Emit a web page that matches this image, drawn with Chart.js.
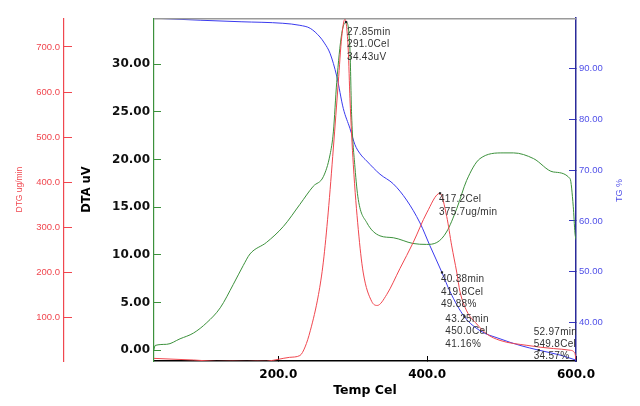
<!DOCTYPE html>
<html>
<head>
<meta charset="utf-8">
<script src="https://cdn.jsdelivr.net/npm/chart.js@4.4.1/dist/chart.umd.min.js"></script>
<style>
  html, body { margin: 0; padding: 0; background: #fff; }
  #c { display: block; }
</style>
</head>
<body>
<canvas id="c" width="640" height="406"></canvas>
<script>
// ---- data ----
const dtgTemp = [32, 54.5, 86, 117, 158, 184, 200, 215, 229, 236, 243, 254, 260.5, 267, 274, 280.6, 285.2, 289.6, 294, 296.3, 300.8, 307.5, 314, 325.5, 333, 345.6, 363.5, 381.4, 399.4, 417.2, 426.3, 433, 439.7, 444.1, 453.1, 466.6, 480, 498, 534, 569.5, 592, 598.6, 600];
const dtgValues = [9.8, 8.2, 6.1, 3, 3, 3.3, 7.6, 12, 16, 35, 71, 151, 223, 332, 476, 621, 722, 762, 693, 585, 439, 295, 201, 136, 127, 151, 209, 267, 332, 375.7, 324, 259, 201, 158, 115, 86, 64, 49.5, 38.6, 31.5, 27.8, 20.6, 6];

const dtaTemp = [33, 34.5, 50, 68, 86, 104, 122, 139.5, 153, 162, 184, 207, 229, 247, 260.5, 269.5, 274, 278.5, 285.2, 291, 296.3, 298.5, 303, 307.5, 318.8, 336.6, 354.5, 381, 399, 413, 426, 440, 453, 471, 502, 516, 543, 569.5, 592, 596.3, 598.6, 600];
const dtaValues = [0.05, 0.5, 0.62, 1.2, 1.8, 2.9, 4.45, 6.9, 8.9, 10.1, 11.3, 13.0, 15.3, 17.2, 18.2, 20.5, 22.9, 28.1, 33.2, 34.43, 31.5, 24.7, 19.2, 15.8, 13.4, 12.0, 11.8, 11.2, 11.1, 11.3, 12.4, 14.9, 17.8, 20.1, 20.7, 20.7, 20.1, 18.7, 18.0, 15.1, 12.3, 11.6];

const tgTemp = [33, 95, 150, 206, 229, 243, 256, 262, 269.5, 278.5, 287.4, 296.3, 303, 310, 318.8, 336.6, 354.5, 372.4, 390.4, 403.8, 419.8, 430.7, 450, 471, 497.9, 524.7, 549.8, 578.5, 600];
const tgValues = [99.9, 99.5, 99.2, 98.9, 98.5, 97.9, 96.2, 95.0, 93.0, 88.5, 82.1, 78.2, 75.0, 73.2, 71.8, 69.2, 67.3, 64.1, 59.6, 55.1, 49.88, 46.1, 41.16, 38.4, 36.8, 35.5, 34.57, 33.6, 32.6];

const xTicks = [200, 400, 600];
const dtaTicks = [0, 5, 10, 15, 20, 25, 30];
const dtgTicks = [100, 200, 300, 400, 500, 600, 700];
const tgTicks = [40, 50, 60, 70, 80, 90];

// annotations: [axis, temp, value, text lines]
const annotations = [
  ['yDTA', 291.0, 34.43, ['27.85min', '291.0Cel', '34.43uV']],
  ['yDTG', 417.2, 375.7, ['417.2Cel', '375.7ug/min']],
  ['yTG', 419.8, 49.88, ['40.38min', '419.8Cel', '49.88%']],
  ['yTG', 450.0, 41.16, ['43.25min', '450.0Cel', '41.16%']],
  ['yTG', 549.8, 34.57, ['52.97min', '549.8Cel', '34.57%']]
];
// text offsets relative to marker (dx, first line dy, line step)
const annotOffsets = [[1, 10, 12.5], [-1, 6, 13], [-1, 7, 12.7], [-19, 2.5, 12.5], [-5, -18, 12.2]];

const RED = '#f0474f', GREEN = '#3c913c', BLUE = '#3a3aee';

const pts = (xs, ys) => xs.map((t, i) => ({ x: t, y: ys[i] }));

const annotPlugin = {
  id: 'annot',
  afterDraw(chart) {
    const { ctx, chartArea } = chart;
    const x = chart.scales.x;
    // top border
    ctx.save();
    ctx.strokeStyle = '#9a9a9a';
    ctx.lineWidth = 1.5;
    ctx.beginPath();
    ctx.moveTo(chartArea.left, chartArea.top + 0.5);
    ctx.lineTo(chartArea.right, chartArea.top + 0.5);
    ctx.stroke();
    ctx.restore();

    // annotations clipped to plot area
    ctx.save();
    ctx.beginPath();
    ctx.rect(chartArea.left, chartArea.top, chartArea.right - chartArea.left, chartArea.bottom - chartArea.top);
    ctx.clip();
    ctx.font = '10px "Liberation Sans", Arial, sans-serif';
    ctx.textBaseline = 'middle';
    ctx.textAlign = 'left';
    try { ctx.letterSpacing = '0.3px'; } catch (e) {}
    annotations.forEach((a, i) => {
      const px = x.getPixelForValue(a[1]);
      const py = chart.scales[a[0]].getPixelForValue(a[2]);
      ctx.fillStyle = '#222';
      ctx.fillRect(px - 1, py - 1, 2.2, 2.2);
      const [dx, dy, step] = annotOffsets[i];
      ctx.fillStyle = '#333';
      a[3].forEach((t, j) => ctx.fillText(t, px + dx, py + dy + j * step));
    });
    ctx.restore();

    // right axis title (reads bottom-to-top)
    ctx.save();
    ctx.translate(620, (chartArea.top + chartArea.bottom) / 2 + 1);
    ctx.rotate(-Math.PI / 2);
    ctx.font = '9px "Liberation Sans", Arial, sans-serif';
    ctx.fillStyle = '#5050e8';
    ctx.textAlign = 'center';
    ctx.textBaseline = 'middle';
    ctx.fillText('TG %', 0, 0);
    ctx.restore();
  }
};

const setTicks = arr => s => { s.ticks = arr.map(v => ({ value: v })); };

new Chart(document.getElementById('c'), {
  type: 'line',
  data: {
    datasets: [
      { label: 'DTG', data: pts(dtgTemp, dtgValues), yAxisID: 'yDTG', borderColor: RED, borderWidth: 1, pointRadius: 0, cubicInterpolationMode: 'monotone', fill: false },
      { label: 'DTA', data: pts(dtaTemp, dtaValues), yAxisID: 'yDTA', borderColor: GREEN, borderWidth: 1, pointRadius: 0, cubicInterpolationMode: 'monotone', fill: false },
      { label: 'TG', data: pts(tgTemp, tgValues), yAxisID: 'yTG', borderColor: BLUE, borderWidth: 1, pointRadius: 0, cubicInterpolationMode: 'monotone', fill: false }
    ]
  },
  options: {
    responsive: false,
    animation: false,
    layout: { padding: { top: 11, left: 0, right: 0, bottom: 0 } },
    plugins: { legend: { display: false }, tooltip: { enabled: false } },
    scales: {
      x: {
        type: 'linear', position: 'bottom', min: 33, max: 600,
        afterBuildTicks: setTicks(xTicks),
        afterFit: s => { s.height = 45; },
        grid: { drawOnChartArea: false, tickLength: -5, color: '#000', lineWidth: 1 },
        border: { color: '#000', width: 1.5 },
        ticks: { padding: 12, autoSkip: false, maxRotation: 0, color: '#000',
          font: { family: '"DejaVu Sans", sans-serif', weight: 'bold', size: 12 },
          callback: v => Number(v).toFixed(1) },
        title: { display: true, text: 'Temp Cel', color: '#000',
          font: { family: '"DejaVu Sans", sans-serif', weight: 'bold', size: 12.5 },
          padding: { top: 0, bottom: 7.5 } }
      },
      yDTG: {
        type: 'linear', position: 'left', weight: 10, min: 3.9, max: 763.6,
        afterBuildTicks: setTicks(dtgTicks),
        afterFit: s => { s.width = 64; },
        grid: { drawOnChartArea: false, tickLength: -8, color: RED, lineWidth: 1 },
        border: { color: RED, width: 1.2 },
        ticks: { padding: 12, color: RED, autoSkip: false,
          font: { family: '"Liberation Sans", Arial, sans-serif', size: 9.5 },
          callback: v => Number(v).toFixed(1) },
        title: { display: true, text: 'DTG ug/min', color: RED,
          font: { family: '"Liberation Sans", Arial, sans-serif', size: 8.5 },
          padding: { top: 15, bottom: 0 } }
      },
      yDTA: {
        type: 'linear', position: 'left', weight: 0, min: -1.13, max: 34.83,
        afterBuildTicks: setTicks(dtaTicks),
        afterFit: s => { s.width = 90; },
        grid: { drawOnChartArea: false, tickLength: -7, color: GREEN, lineWidth: 1 },
        border: { color: GREEN, width: 1.2 },
        ticks: { padding: 11, color: '#111', autoSkip: false,
          font: { family: '"DejaVu Sans", sans-serif', weight: 'bold', size: 12 },
          callback: v => Number(v).toFixed(2) },
        title: { display: true, text: 'DTA uV', color: '#000',
          font: { family: '"DejaVu Sans", sans-serif', weight: 'bold', size: 11.5 },
          padding: { top: 16, bottom: 0 } }
      },
      yTG: {
        type: 'linear', position: 'right', min: 32.43, max: 99.9,
        afterBuildTicks: setTicks(tgTicks),
        afterFit: s => { s.width = 64; },
        grid: { drawOnChartArea: false, tickLength: -7, color: '#3535c0', lineWidth: 1 },
        border: { color: '#2b2b9a', width: 1.5 },
        ticks: { padding: 10, color: '#5050e8', autoSkip: false,
          font: { family: '"Liberation Sans", Arial, sans-serif', size: 9.5 },
          callback: v => Number(v).toFixed(2) },
        title: { display: false }
      }
    }
  },
  plugins: [annotPlugin]
});
</script>
</body>
</html>
